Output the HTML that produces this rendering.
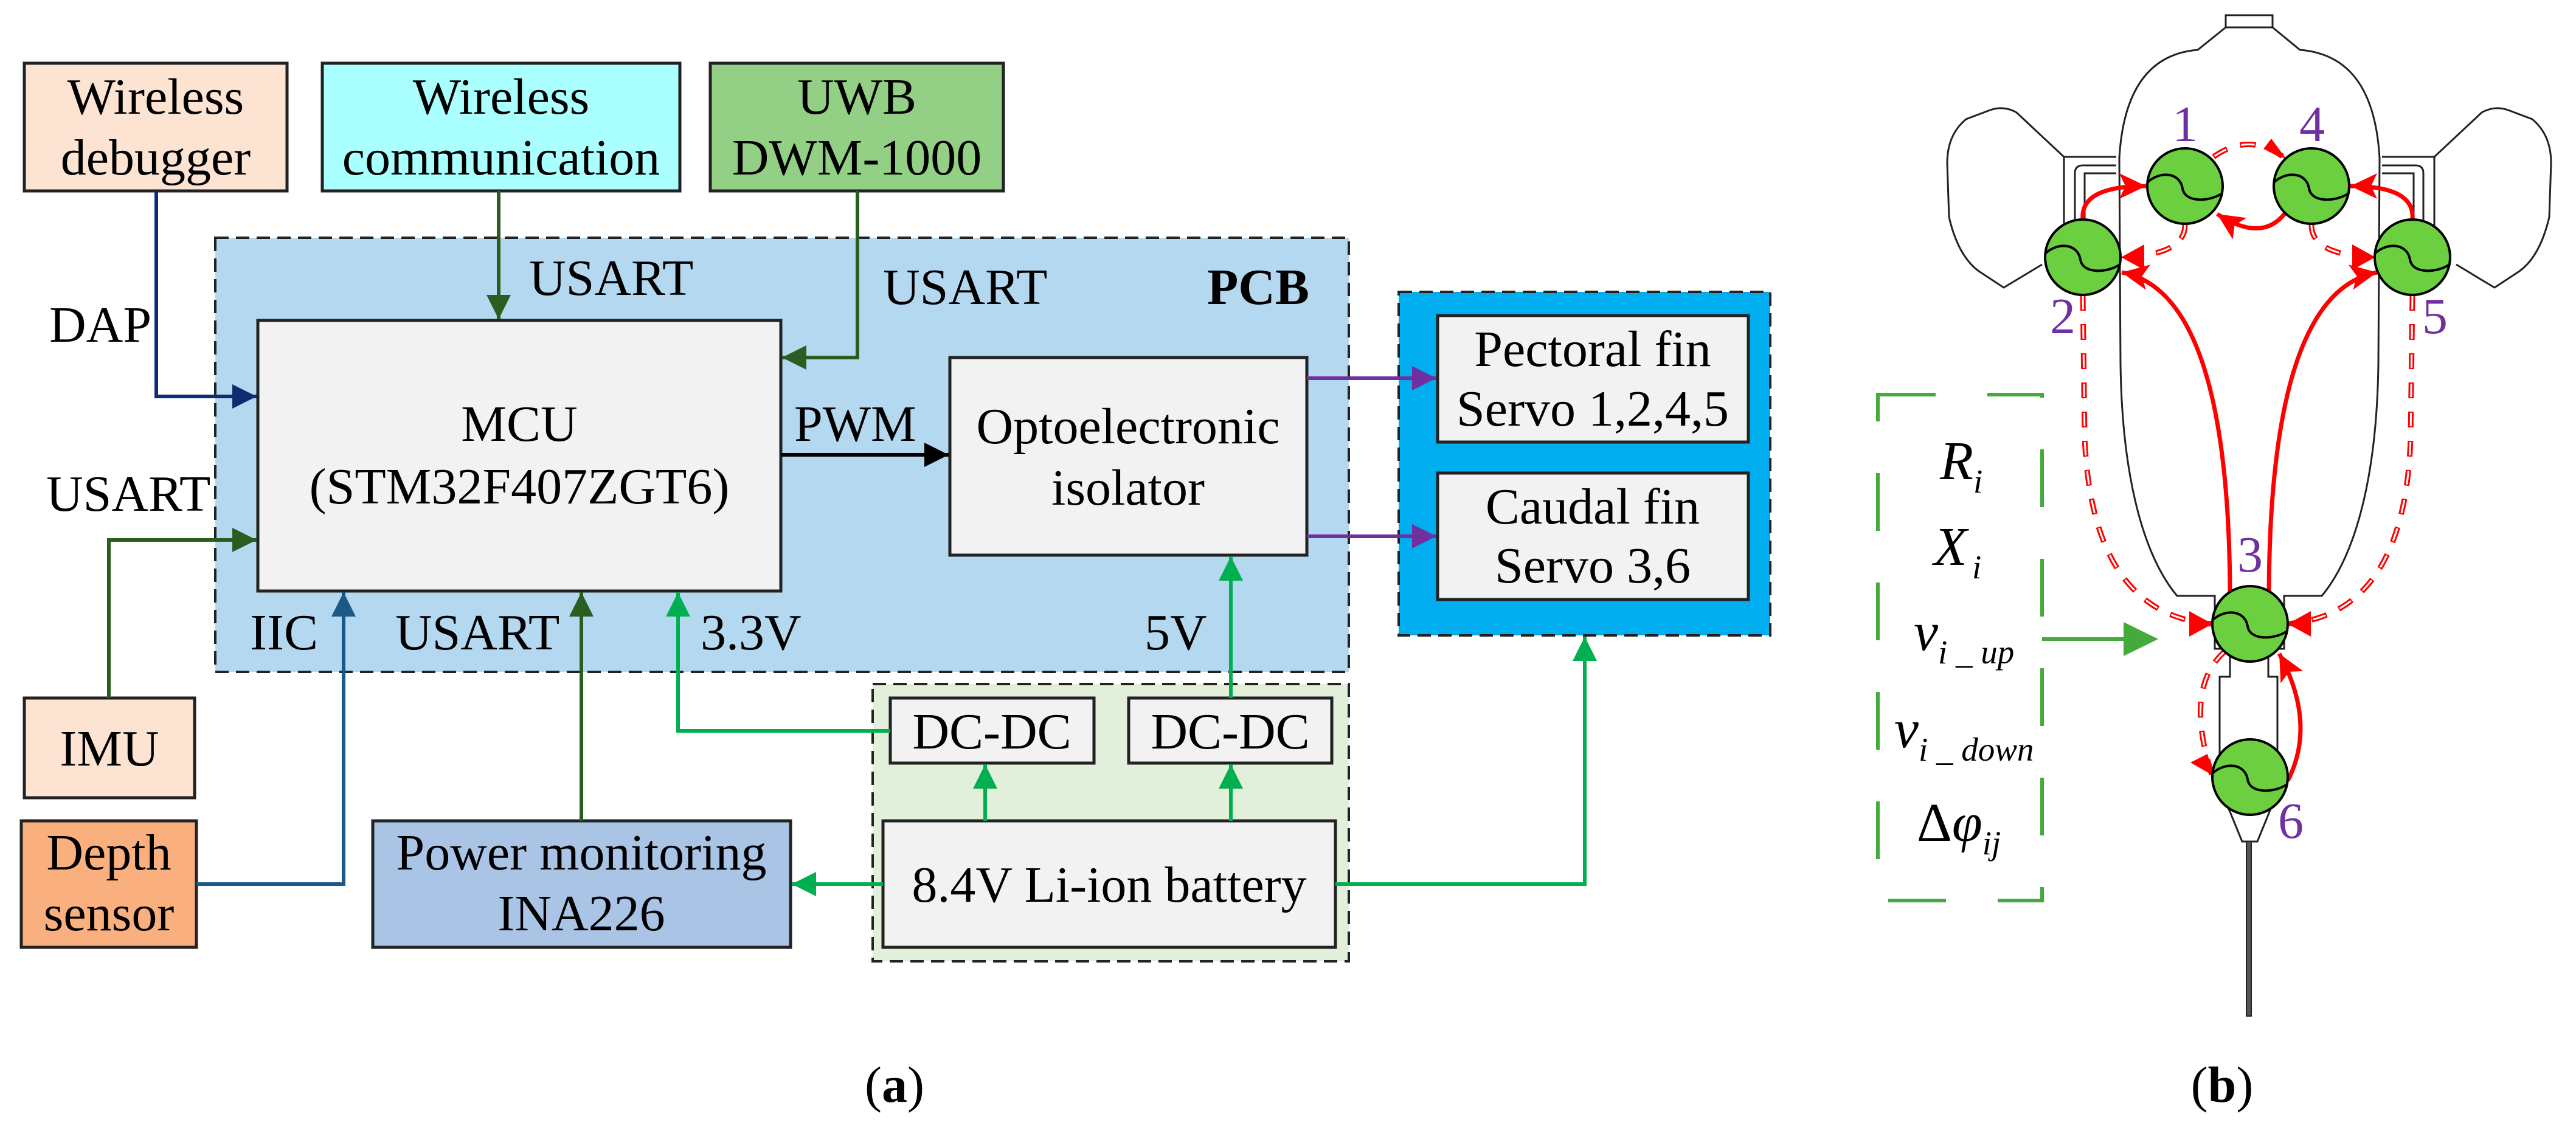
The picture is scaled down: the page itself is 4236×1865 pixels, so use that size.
<!DOCTYPE html>
<html><head><meta charset="utf-8"><style>
html,body{margin:0;padding:0;background:#fff;}
svg{display:block;font-family:"Liberation Serif","DejaVu Serif","Times New Roman",serif;}
svg text{font-family:"Liberation Serif","DejaVu Serif","Times New Roman",serif;}
</style></head><body>
<svg width="4236" height="1865" viewBox="0 0 4236 1865" xmlns="http://www.w3.org/2000/svg" font-family="'Liberation Serif', 'DejaVu Serif', serif">
<defs>
<marker id="aNavy" markerUnits="userSpaceOnUse" markerWidth="44" markerHeight="44" refX="40" refY="22" orient="auto"><path d="M0,2 L40,22 L0,42 Z" fill="#0d2d72"/></marker>
<marker id="aDg" markerUnits="userSpaceOnUse" markerWidth="44" markerHeight="44" refX="40" refY="22" orient="auto"><path d="M0,2 L40,22 L0,42 Z" fill="#2a5e20"/></marker>
<marker id="aBlue" markerUnits="userSpaceOnUse" markerWidth="44" markerHeight="44" refX="40" refY="22" orient="auto"><path d="M0,2 L40,22 L0,42 Z" fill="#1a5a88"/></marker>
<marker id="aBlk" markerUnits="userSpaceOnUse" markerWidth="44" markerHeight="44" refX="40" refY="22" orient="auto"><path d="M0,2 L40,22 L0,42 Z" fill="#000"/></marker>
<marker id="aG" markerUnits="userSpaceOnUse" markerWidth="44" markerHeight="44" refX="40" refY="22" orient="auto"><path d="M0,2 L40,22 L0,42 Z" fill="#00b050"/></marker>
<marker id="aP" markerUnits="userSpaceOnUse" markerWidth="44" markerHeight="44" refX="40" refY="22" orient="auto"><path d="M0,2 L40,22 L0,42 Z" fill="#7030a0"/></marker>
<marker id="aR" markerUnits="userSpaceOnUse" markerWidth="50" markerHeight="50" refX="44" refY="25" orient="auto"><path d="M0,4 L44,25 L0,46 L10,25 Z" fill="#ff0000"/></marker>
</defs>

<rect x="354" y="391" width="1864" height="714" fill="#b4d8ef" stroke="#222" stroke-width="4" stroke-dasharray="22,12"/>
<rect x="1435" y="1125" width="783" height="456" fill="#e2efda" stroke="#222" stroke-width="4" stroke-dasharray="22,12"/>

<g stroke="#222" stroke-width="5">
<rect x="40" y="104" width="432" height="210" fill="#fde4d2"/>
<rect x="530" y="104" width="588" height="210" fill="#aaffff"/>
<rect x="1168" y="104" width="482" height="210" fill="#93cf85"/>
<rect x="424" y="527" width="860" height="445" fill="#f2f2f2"/>
<rect x="1562" y="588" width="587" height="325" fill="#f2f2f2"/>
<rect x="1464" y="1148" width="335" height="107" fill="#f2f2f2"/>
<rect x="1856" y="1148" width="334" height="107" fill="#f2f2f2"/>
<rect x="1452" y="1350" width="744" height="208" fill="#f2f2f2"/>
<rect x="613" y="1350" width="687" height="208" fill="#aac4e6"/>
<rect x="40" y="1148" width="280" height="164" fill="#fde4d2"/>
<rect x="35" y="1350" width="288" height="208" fill="#f9b07e"/>
</g>
<rect x="2300" y="480" width="611" height="565" fill="#00adef" stroke="#222" stroke-width="4" stroke-dasharray="22,12"/>
<g stroke="#222" stroke-width="5" fill="#f2f2f2">
<rect x="2364" y="519" width="511" height="208"/>
<rect x="2364" y="778" width="511" height="208"/>
</g>

<g fill="none" stroke-width="6">
<path d="M257,314 V652 H422" stroke="#0d2d72" marker-end="url(#aNavy)"/>
<path d="M179,1148 V888 H422" stroke="#2a5e20" marker-end="url(#aDg)"/>
<path d="M820,314 V525" stroke="#2a5e20" marker-end="url(#aDg)"/>
<path d="M1410,314 V588 H1286" stroke="#2a5e20" marker-end="url(#aDg)"/>
<path d="M1284,748 H1560" stroke="#000" marker-end="url(#aBlk)"/>
<path d="M323,1454 H565 V974" stroke="#1a5a88" marker-end="url(#aBlue)"/>
<path d="M956,1350 V974" stroke="#2a5e20" marker-end="url(#aDg)"/>
<path d="M1464,1202 H1115 V974" stroke="#00b050" marker-end="url(#aG)"/>
<path d="M2024,1148 V915" stroke="#00b050" marker-end="url(#aG)"/>
<path d="M1620,1350 V1257" stroke="#00b050" marker-end="url(#aG)"/>
<path d="M2024,1350 V1257" stroke="#00b050" marker-end="url(#aG)"/>
<path d="M1452,1454 H1302" stroke="#00b050" marker-end="url(#aG)"/>
<path d="M2196,1454 H2606 V1047" stroke="#00b050" marker-end="url(#aG)"/>
<path d="M2149,622 H2362" stroke="#7030a0" marker-end="url(#aP)"/>
<path d="M2149,882 H2362" stroke="#7030a0" marker-end="url(#aP)"/>
</g>

<g font-size="84" text-anchor="middle" fill="#000" font-family="'Liberation Serif', serif">
<text x="256" y="187">Wireless</text><text x="256" y="287">debugger</text>
<text x="824" y="187">Wireless</text><text x="824" y="287">communication</text>
<text x="1409" y="187">UWB</text><text x="1409" y="287">DWM-1000</text>
<text x="854" y="725">MCU</text><text x="854" y="828">(STM32F407ZGT6)</text>
<text x="1855" y="729">Optoelectronic</text><text x="1855" y="830">isolator</text>
<text x="1631" y="1231">DC-DC</text><text x="2023" y="1231">DC-DC</text>
<text x="1824" y="1483">8.4V Li-ion battery</text>
<text x="956" y="1430">Power monitoring</text><text x="956" y="1530">INA226</text>
<text x="180" y="1259">IMU</text>
<text x="179" y="1430">Depth</text><text x="179" y="1530">sensor</text>
<text x="2619" y="602">Pectoral fin</text><text x="2619" y="700">Servo 1,2,4,5</text>
<text x="2619" y="861">Caudal fin</text><text x="2619" y="958">Servo 3,6</text>
<text x="1471" y="1812">(<tspan font-weight="bold">a</tspan>)</text>
<text x="3654" y="1812">(<tspan font-weight="bold">b</tspan>)</text>
</g>
<g font-size="84" fill="#000" font-family="'Liberation Serif', serif">
<text x="81" y="562">DAP</text>
<text x="76" y="840">USART</text>
<text x="870" y="485">USART</text>
<text x="1452" y="500">USART</text>
<text x="1985" y="500" font-weight="bold">PCB</text>
<text x="1306" y="725">PWM</text>
<text x="411" y="1068">IIC</text>
<text x="650" y="1068">USART</text>
<text x="1152" y="1068">3.3V</text>
<text x="1882" y="1068">5V</text>
</g>

<g fill="#fff" stroke="#222" stroke-width="3">
<path d="M3394,258 L3316,185 C3300,176 3285,176 3270,182 L3233,196 C3210,215 3202,240 3202,268 L3205,357 C3215,400 3232,430 3254,446 L3295,473 L3358,435"/>
<path d="M4003,258 L4081,185 C4097,176 4112,176 4127,182 L4164,196 C4187,215 4195,240 4195,268 L4192,357 C4182,400 4165,430 4143,446 L4102,473 L4039,435"/>
<path d="M3394,258 H3480 M3394,258 V430 M4003,258 H3917 M4003,258 V430" fill="none"/>
<path d="M3412,420 V285 Q3412,272 3425,272 H3480 M3428,380 V285 H3480" fill="none"/>
<path d="M3985,420 V285 Q3985,272 3972,272 H3917 M3969,380 V285 H3917" fill="none"/>
<path d="M3660,45 L3614,82 C3540,88 3492,140 3485,260 L3487,600 C3490,800 3530,920 3580,980 L3642,980 L3642,1067 L3667,1067 L3667,1113 L3650,1113 L3650,1300 L3667,1335 L3687,1384 L3712,1384 L3732,1335 L3745,1300 L3745,1113 L3730,1113 L3730,1067 L3756,1067 L3756,980 L3818,980 C3868,920 3908,800 3911,600 L3913,260 C3906,140 3858,88 3782,82 L3737,45 Z"/>
<rect x="3660" y="25" width="77" height="20"/>
</g>
<rect x="3694" y="1384" width="8" height="287" fill="#555" stroke="#222" stroke-width="2"/>

<g fill="none">
<g stroke="#ff0000" stroke-width="9" stroke-dasharray="26,22">
<path d="M3640,258 Q3700,215 3760,262"/>
<path d="M3593,368 Q3595,420 3488,423"/>
<path d="M3801,368 Q3799,420 3906,423"/>
<path d="M3425,485 L3428,720 Q3440,1010 3636,1026"/>
<path d="M3967,485 L3964,720 Q3955,1010 3762,1026"/>
<path d="M3660,1070 Q3590,1130 3638,1276"/>
</g>
<g stroke="#fff" stroke-width="3" stroke-dasharray="22,26" stroke-dashoffset="-2">
<path d="M3640,258 Q3700,215 3760,262"/>
<path d="M3593,368 Q3595,420 3488,423"/>
<path d="M3801,368 Q3799,420 3906,423"/>
<path d="M3425,485 L3428,720 Q3440,1010 3636,1026"/>
<path d="M3967,485 L3964,720 Q3955,1010 3762,1026"/>
<path d="M3660,1070 Q3590,1130 3638,1276"/>
</g>
<g stroke="none">
<path d="M3760,262 L3722,245 L3735,228 Z" fill="#ff0000"/>
<path d="M3488,423 L3526,402 L3526,444 Z" fill="#ff0000"/>
<path d="M3906,423 L3868,402 L3868,444 Z" fill="#ff0000"/>
<path d="M3638,1026 L3600,1005 L3600,1047 Z" fill="#ff0000"/>
<path d="M3762,1026 L3800,1005 L3800,1047 Z" fill="#ff0000"/>
<path d="M3640,1276 L3602,1254 L3630,1240 Z" fill="#ff0000"/>
</g>
<g stroke="#ff0000" stroke-width="7">
<path d="M3425,361 Q3420,306 3529,306" marker-end="url(#aR)"/>
<path d="M3967,361 Q3972,306 3865,306" marker-end="url(#aR)"/>
<path d="M3758,350 Q3720,400 3646,352" marker-end="url(#aR)"/>
<path d="M3667,975 Q3665,480 3489,448" marker-end="url(#aR)"/>
<path d="M3731,975 Q3733,480 3909,448" marker-end="url(#aR)"/>
<path d="M3762,1284 Q3810,1190 3748,1075" marker-end="url(#aR)"/>
</g>
</g>

<g stroke="#000" stroke-width="4">
<g transform="translate(3593,306)"><circle r="62" fill="#6ccf3f"/><path d="M-62,-6 C-40,-26 -8,-22 -4,4 C0,28 40,26 61,12" fill="none"/></g>
<g transform="translate(3801,306)"><circle r="62" fill="#6ccf3f"/><path d="M-62,-6 C-40,-26 -8,-22 -4,4 C0,28 40,26 61,12" fill="none"/></g>
<g transform="translate(3425,423)"><circle r="62" fill="#6ccf3f"/><path d="M-62,-6 C-40,-26 -8,-22 -4,4 C0,28 40,26 61,12" fill="none"/></g>
<g transform="translate(3967,423)"><circle r="62" fill="#6ccf3f"/><path d="M-62,-6 C-40,-26 -8,-22 -4,4 C0,28 40,26 61,12" fill="none"/></g>
<g transform="translate(3700,1026)"><circle r="62" fill="#6ccf3f"/><path d="M-62,-6 C-40,-26 -8,-22 -4,4 C0,28 40,26 61,12" fill="none"/></g>
<g transform="translate(3700,1278)"><circle r="62" fill="#6ccf3f"/><path d="M-62,-6 C-40,-26 -8,-22 -4,4 C0,28 40,26 61,12" fill="none"/></g>
</g>
<g font-size="84" fill="#7030a0" text-anchor="middle" font-family="'Liberation Serif', serif">
<text x="3593" y="232">1</text>
<text x="3802" y="232">4</text>
<text x="3392" y="548">2</text>
<text x="4004" y="548">5</text>
<text x="3700" y="940">3</text>
<text x="3767" y="1378">6</text>
</g>

<rect x="3088" y="649" width="270" height="832" fill="none" stroke="#44aa3c" stroke-width="6" stroke-dasharray="95,85"/>
<path d="M3358,1051 H3495" stroke="#44aa3c" stroke-width="6"/>
<path d="M3492,1023 L3549,1051 L3492,1079 Z" fill="#44aa3c"/>
<g font-size="90" font-style="italic" fill="#000" font-family="'Liberation Serif', serif">
<text x="3190" y="788">R<tspan font-size="55" dy="22">i</tspan></text>
<text x="3180" y="929">X<tspan font-size="55" dy="22" dx="8">i</tspan></text>
<text x="3147" y="1069">v<tspan font-size="55" dy="22">i _ up</tspan></text>
<text x="3115" y="1229">v<tspan font-size="55" dy="22">i _ down</tspan></text>
<text x="3152" y="1383"><tspan font-style="normal">Δ</tspan>φ<tspan font-size="55" dy="22">ij</tspan></text>
</g>
</svg>
</body></html>
